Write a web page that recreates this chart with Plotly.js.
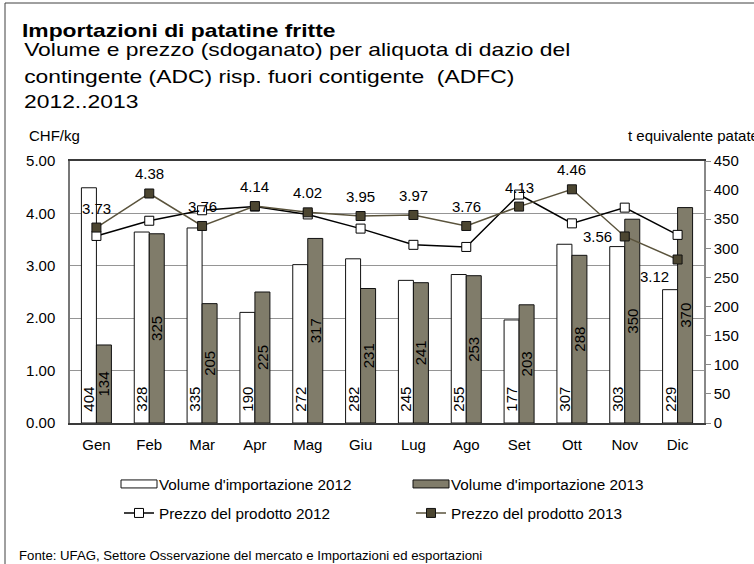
<!DOCTYPE html>
<html><head><meta charset="utf-8">
<script src="https://cdn.plot.ly/plotly-3.0.1.min.js"></script>
<style>html,body{margin:0;padding:0;background:#fff}</style>
</head><body>
<div id="chart" style="width:754px;height:564px"></div>
<script>
// ---- data ----
const months = ['Gen','Feb','Mar','Apr','Mag','Giu','Lug','Ago','Set','Ott','Nov','Dic'];
const volume2012 = [404,328,335,190,272,282,245,255,177,307,303,229];
const volume2013 = [134,325,205,225,317,231,241,253,203,288,350,370];
const price2012 = [3.57,3.86,4.06,4.13,3.98,3.71,3.40,3.36,4.36,3.81,4.11,3.59];
const price2013 = [3.73,4.38,3.76,4.14,4.02,3.95,3.97,3.76,4.13,4.46,3.56,3.12];
const priceTicks = [0,1,2,3,4,5];
const volumeTicks = [0,50,100,150,200,250,300,350,400,450];

// ---- geometry helpers (pixel -> paper) ----
const W = 754, H = 564, ML = 70, MR = 50, MT = 161, MB = 141;
const PW = W - ML - MR, PH = H - MT - MB;
const px = x => (x - ML) / PW;
const py = y => (H - MB - y) / PH;

const FONT = 'Liberation Sans, Arial, Helvetica, sans-serif';
const barDark = '#807c6a';
const lineDark = '#5a533c';
const markDark = '#4c4631';

// placement of the 2013 price labels (above the marker, except Nov: left, Dic: below-left)
const labelPlacement = {Nov:'left', Dic:'belowleft'};
function priceLabel(m, v) {
  const p = labelPlacement[m] || 'above';
  const a = {x:m, y:v, xref:'x', yref:'y2', text:v.toFixed(2), showarrow:false,
             font:{family:FONT, size:15, color:'#000'}, yanchor:'middle'};
  if (p === 'above') { a.xanchor = 'center'; a.yshift = 19.5; }
  else if (p === 'left') { a.xanchor = 'right'; a.xshift = -11; a.yshift = 0; }
  else { a.xanchor = 'right'; a.xshift = -7; a.yshift = -17; }
  return a;
}

const traces = [
  {type:'bar', name:"Volume d'importazione 2012", x:months, y:volume2012, yaxis:'y',
   marker:{color:'#ffffff', line:{color:'#111', width:1}},
   texttemplate:'\u00a0\u00a0%{y}', textposition:'inside', insidetextanchor:'start', textangle:-90,
   constraintext:'none', insidetextfont:{family:FONT, size:15, color:'#000'},
   hoverinfo:'skip', legend:'legend'},
  {type:'bar', name:"Volume d'importazione 2013", x:months, y:volume2013, yaxis:'y',
   marker:{color:barDark, line:{color:'#111', width:1}},
   texttemplate:'%{y}', textposition:'inside', insidetextanchor:'middle', textangle:-90,
   constraintext:'none', insidetextfont:{family:FONT, size:15, color:'#000'},
   hoverinfo:'skip', legend:'legend'},
  {type:'scatter', mode:'lines+markers', name:'Prezzo del prodotto 2012', x:months, y:price2012, yaxis:'y2',
   line:{color:'#000', width:1.5},
   marker:{symbol:'square', size:9, color:'#fff', line:{color:'#000', width:1}},
   hoverinfo:'skip', legend:'legend2'},
  {type:'scatter', mode:'lines+markers', name:'Prezzo del prodotto 2013', x:months, y:price2013, yaxis:'y2',
   line:{color:lineDark, width:1.5},
   marker:{symbol:'square', size:9, color:markDark, line:{color:'#111', width:1}},
   hoverinfo:'skip', legend:'legend2'}
];

const textAnnotations = [
  {text:'Volume e prezzo (sdoganato) per aliquota di dazio del', xref:'paper', yref:'paper',
   x:px(22), y:py(50), xanchor:'left', yanchor:'middle', showarrow:false, font:{family:FONT, size:18, color:'#000'}},
  {text:'contingente (ADC) risp. fuori contigente  (ADFC)', xref:'paper', yref:'paper',
   x:px(22), y:py(76.5), xanchor:'left', yanchor:'middle', showarrow:false, font:{family:FONT, size:18, color:'#000'}},
  {text:'2012..2013', xref:'paper', yref:'paper',
   x:px(22), y:py(102), xanchor:'left', yanchor:'middle', showarrow:false, font:{family:FONT, size:18, color:'#000'}},
  {text:'CHF/kg', xref:'paper', yref:'paper', x:px(27), y:py(135), xanchor:'left', yanchor:'middle',
   showarrow:false, font:{family:FONT, size:15, color:'#000'}},
  {text:'t equivalente patate', xref:'paper', yref:'paper', x:px(626), y:py(135), xanchor:'left', yanchor:'middle',
   showarrow:false, font:{family:FONT, size:15, color:'#000'}},
  {text:'Fonte: UFAG, Settore Osservazione del mercato e Importazioni ed esportazioni', xref:'paper', yref:'paper',
   x:px(17), y:py(555), xanchor:'left', yanchor:'middle', showarrow:false, font:{family:FONT, size:13.2, color:'#000'}}
];
const labelAnnotations = months.map((m, i) => priceLabel(m, price2013[i]));

const layout = {
  width:W, height:H,
  margin:{l:ML, r:MR, t:MT, b:MB, pad:0, autoexpand:false},
  paper_bgcolor:'#fff', plot_bgcolor:'#fff',
  font:{family:FONT, size:15, color:'#000'},
  showlegend:true,
  barmode:'group', bargap:0.432, bargroupgap:0,
  title:{text:'<b>Importazioni di patatine fritte</b>', font:{family:FONT, size:18, color:'#000'},
    xref:'container', yref:'container', x:22/W, xanchor:'left', y:1-30.5/H, yanchor:'middle'},
  xaxis:{type:'category', range:[-0.5, 11.5], autorange:false, showline:true, mirror:true,
    linecolor:'#3a3a3a', linewidth:1.5,
    ticks:'', ticklabelstandoff:7, tickfont:{family:FONT, size:15, color:'#000'},
    showgrid:false, zeroline:false, fixedrange:true, automargin:false},
  yaxis:{range:[0,450], autorange:false, tickvals:volumeTicks, side:'right', showgrid:false,
    showline:true, linecolor:'#888', linewidth:1.5, ticks:'outside', ticklen:5, tickcolor:'#888',
    tickfont:{family:FONT, size:15, color:'#000'}, zeroline:false, fixedrange:true, automargin:false},
  yaxis2:{range:[0,5], autorange:false, tickvals:priceTicks, tickformat:'.2f', overlaying:'y', side:'left',
    showgrid:true, gridcolor:'#959595', gridwidth:1.3,
    showline:true, linecolor:'#777', linewidth:1.5, ticks:'', ticklabelstandoff:10,
    tickfont:{family:FONT, size:15, color:'#000'}, zeroline:false, fixedrange:true, automargin:false},
  legend:{orientation:'h', x:px(119), xanchor:'left', y:py(484), yanchor:'middle',
    entrywidth:247, entrywidthmode:'pixels', font:{family:FONT, size:15.3, color:'#000'},
    bgcolor:'rgba(0,0,0,0)', borderwidth:0, itemclick:false, itemdoubleclick:false},
  legend2:{orientation:'h', x:px(119), xanchor:'left', y:py(513), yanchor:'middle',
    entrywidth:247, entrywidthmode:'pixels', font:{family:FONT, size:15.3, color:'#000'},
    bgcolor:'rgba(0,0,0,0)', borderwidth:0, itemclick:false, itemdoubleclick:false},
  annotations: textAnnotations.concat(labelAnnotations),
  shapes:[
    {type:'rect', xref:'paper', yref:'paper', x0:px(5), x1:px(770), y0:py(3), y1:py(590),
     line:{color:'#404040', width:1}, fillcolor:'rgba(0,0,0,0)', layer:'below'}
  ]
};

function stretchText(el, sx) {
  if (!el || el.dataset.stretched) return;
  const b = el.getBBox();
  el.setAttribute('transform', 'translate(' + (b.x * (1 - sx)) + ',0) scale(' + sx + ',1)');
  el.dataset.stretched = '1';
}
function widenLegendBars(gd) {
  gd.querySelectorAll('g.legendpoints path').forEach(p => {
    const d = (p.getAttribute('d') || '').replace(/\s/g, '');
    if (p.classList.contains('legendbar') || d === 'M6,6H-6V-6H6Z') {
      p.setAttribute('d', 'M18,4H-18V-4H18Z');
    }
  });
}
function finish(gd) {
  widenLegendBars(gd);
  const sx = 1.27;  // the reference title block is set wider than plain Arial
  stretchText(gd.querySelector('text.gtitle'), sx);
  [0, 1, 2].forEach(i => {
    stretchText(gd.querySelector('g.annotation[data-index="' + i + '"] text.annotation-text'), sx);
  });
}
const gdiv = document.getElementById('chart');
Plotly.newPlot(gdiv, traces, layout, {displayModeBar:false, responsive:false}).then(gd => {
  finish(gd);
  gd.on('plotly_afterplot', () => finish(gd));
  [30, 150, 400].forEach(t => setTimeout(() => finish(gd), t));
});
</script>
</body></html>
